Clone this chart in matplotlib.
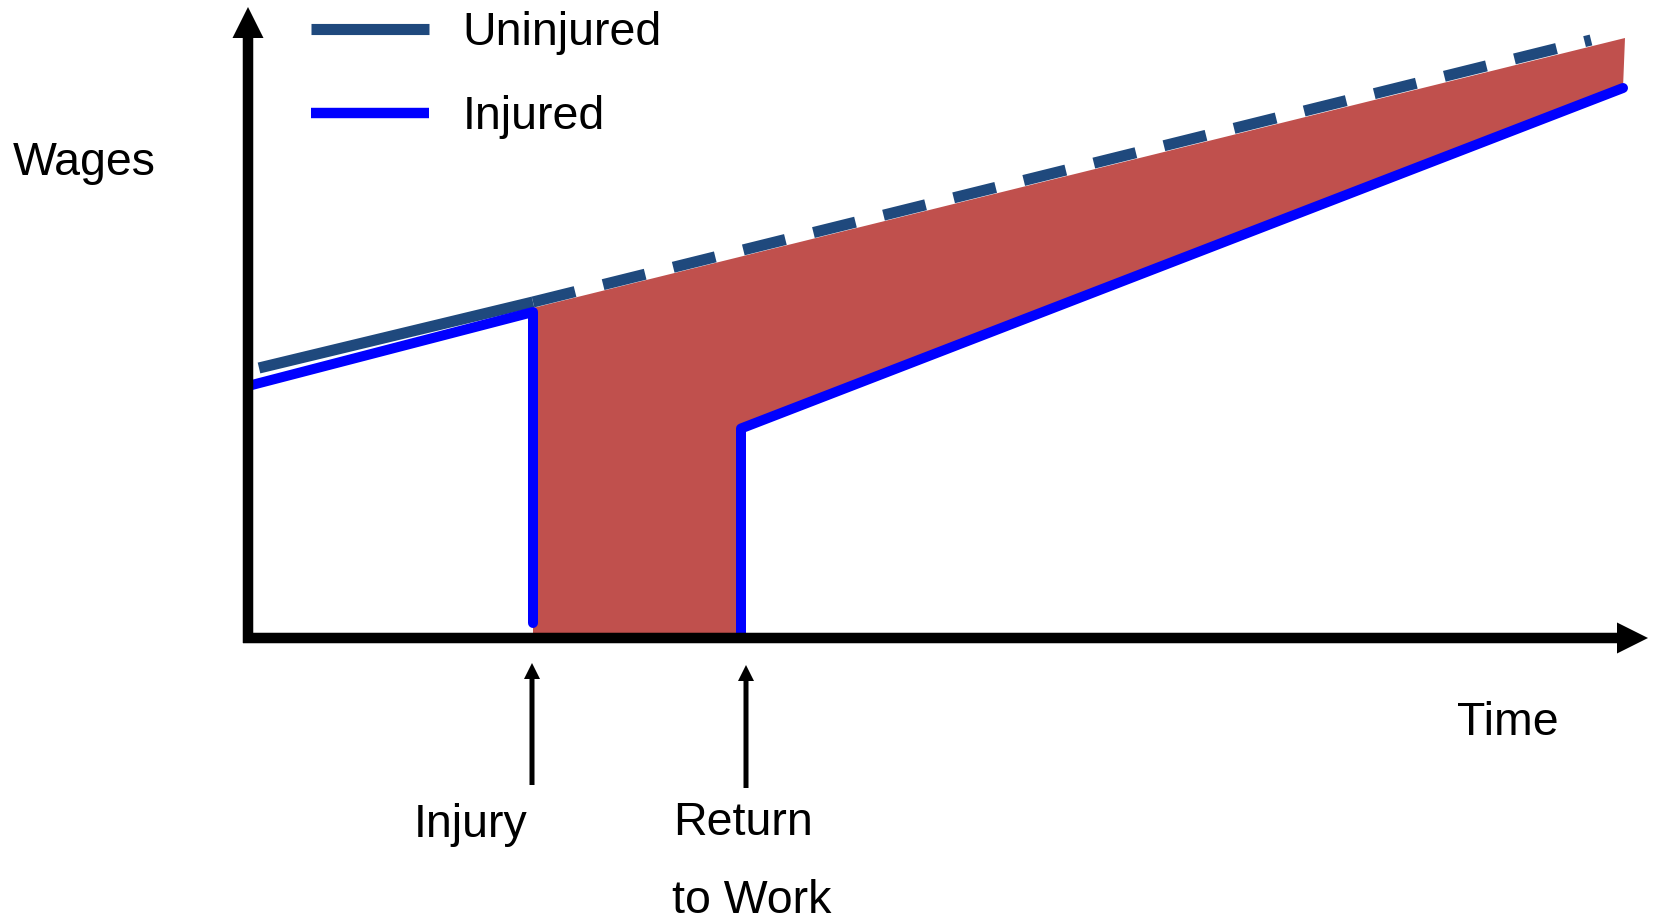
import matplotlib.pyplot as plt
from matplotlib.lines import Line2D

plt.rcParams['font.family'] = ['Liberation Sans', 'DejaVu Sans']

# wage paths (time and wage in arbitrary units)
injury_t = 2.85
return_t = 4.93

uninj_t = [0.11, 2.85, 13.43]
uninj_w = [2.70, 3.36, 5.98]

gap_top_t = [2.85, 13.77]
gap_top_w = [3.30, 6.00]

inj_pre_t = [0.0, 2.85, 2.85]
inj_pre_w = [2.52, 3.26, 0.15]
inj_post_t = [4.93, 4.93, 13.75]
inj_post_w = [0.05, 2.095, 5.50]

labels = ["Uninjured", "Injured"]

C_UNINJ = "#1F497D"
C_INJ = "#0000FF"
C_GAP = "#C0504D"
FS = 33.5

fig = plt.figure(figsize=(16.55, 9.24), dpi=100)
ax = fig.add_axes([0, 0, 1, 1])
ax.set_xlim(-2.48, 14.07)
ax.set_ylim(-2.86, 6.38)
ax.axis("off")

# earnings loss area
poly_t = gap_top_t + [inj_post_t[2], inj_post_t[1], inj_post_t[0], injury_t]
poly_w = gap_top_w + [inj_post_w[2], inj_post_w[1], 0, 0]
ax.fill(poly_t, poly_w, color=C_GAP, lw=0, zorder=1)

# uninjured: solid before injury, dashed after
ax.plot(uninj_t[:2], uninj_w[:2], color=C_UNINJ, lw=8, solid_capstyle="butt", zorder=2)
ax.plot(uninj_t[1:], uninj_w[1:], color=C_UNINJ, lw=8, dashes=(3.9, 2.6),
        dash_capstyle="butt", zorder=2)

ax.plot(inj_pre_t, inj_pre_w, color=C_INJ, lw=7.2, solid_capstyle="round",
        solid_joinstyle="round", zorder=3)
ax.plot(inj_post_t, inj_post_w, color=C_INJ, lw=7.2, solid_capstyle="round",
        solid_joinstyle="round", zorder=3)

# axes with arrows
ax.arrow(-0.05, 0, 14.05, 0, width=0.105, head_width=0.31, head_length=0.31,
         length_includes_head=True, color="black", lw=0, zorder=5)
ax.arrow(0, -0.05, 0, 6.36, width=0.105, head_width=0.31, head_length=0.31,
         length_includes_head=True, color="black", lw=0, zorder=5)

# event markers
ax.arrow(injury_t - 0.01, -1.47, 0, 1.22, width=0.05, head_width=0.16, head_length=0.16,
         length_includes_head=True, color="black", lw=0)
ax.arrow(return_t + 0.05, -1.50, 0, 1.23, width=0.05, head_width=0.16, head_length=0.16,
         length_includes_head=True, color="black", lw=0)

ax.text(-2.35, 4.63, "Wages", fontsize=FS, va="baseline", ha="left")
ax.text(12.09, -0.97, "Time", fontsize=FS, va="baseline", ha="left")
ax.text(1.66, -1.99, "Injury", fontsize=FS, va="baseline", ha="left")
ax.text(4.25, -1.97, "Return", fontsize=FS, va="baseline", ha="left")
ax.text(4.24, -2.75, "to Work", fontsize=FS, va="baseline", ha="left")

handles = [Line2D([], [], color=C_UNINJ, lw=8, solid_capstyle="butt"),
           Line2D([], [], color=C_INJ, lw=7.5, solid_capstyle="butt")]
ax.legend(handles, labels, loc="upper left", bbox_to_anchor=(311 / 1655, 1 - 11 / 924),
          bbox_transform=fig.transFigure, frameon=False, fontsize=FS, borderpad=0,
          borderaxespad=0, handlelength=2.54, handletextpad=0.72, labelspacing=0.87)

fig.savefig("out.png", dpi=100)
